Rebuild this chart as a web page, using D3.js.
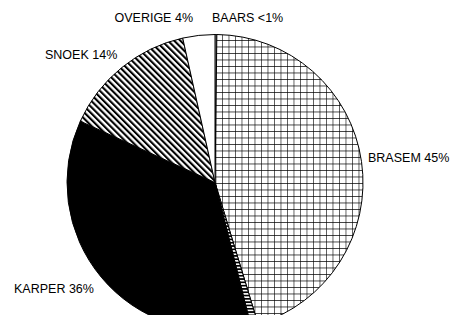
<!DOCTYPE html>
<html>
<head>
<meta charset="utf-8">
<script src="https://cdn.jsdelivr.net/npm/d3@7"></script>
<style>
  html, body { margin: 0; padding: 0; background: #fff; }
  svg { display: block; }
</style>
</head>
<body>
<div id="chart"></div>
<script>
// soorten, clockwise from 12 o'clock
const species = ['BAARS', 'BRASEM', 'BLANKVOORN', 'KARPER', 'SNOEK', 'OVERIGE'];
const shares = [0.2, 45.1, 0.8, 35.7, 14.7, 3.5];
const labels = ['BAARS <1%', 'BRASEM 45%', '', 'KARPER 36%', 'SNOEK 14%', 'OVERIGE 4%'];
const fills = ['white', 'url(#grid)', 'url(#hstripe)', 'black', 'url(#diag)', 'white'];

// label placement (x, baseline, anchor)
const labelPos = {
    BAARS: [212, 22, 'start'],
    BRASEM: [368, 162, 'start'],
    KARPER: [14, 293, 'start'],
    SNOEK: [45, 59, 'start'],
    OVERIGE: [193, 22, 'end']
};

const width = 454, height = 315;
const cx = 215, cy = 182.5, radius = 148;

const svg = d3.select('#chart').append('svg')
    .attr('width', width)
    .attr('height', height);

const defs = svg.append('defs');

let grid = defs.append('pattern')
    .attr('id', 'grid')
    .attr('patternUnits', 'userSpaceOnUse')
    .attr('x', 0.5).attr('y', 0.5)
    .attr('width', 6.5).attr('height', 6.5);
grid.append('rect').attr('width', 6.5).attr('height', 6.5).attr('fill', 'white');
grid.append('path').attr('d', 'M0,0H6.5M0,0V6.5').attr('stroke', 'black').attr('stroke-width', 1.2);

let diag = defs.append('pattern')
    .attr('id', 'diag')
    .attr('patternUnits', 'userSpaceOnUse')
    .attr('width', 4.4).attr('height', 10)
    .attr('patternTransform', 'rotate(-45)');
diag.append('rect').attr('width', 4.4).attr('height', 10).attr('fill', 'white');
diag.append('rect').attr('width', 2.1).attr('height', 10).attr('fill', 'black');

let hstripe = defs.append('pattern')
    .attr('id', 'hstripe')
    .attr('patternUnits', 'userSpaceOnUse')
    .attr('width', 10).attr('height', 3.3);
hstripe.append('rect').attr('width', 10).attr('height', 3.3).attr('fill', 'white');
hstripe.append('rect').attr('width', 10).attr('height', 1.7).attr('fill', 'black');

const data = species.map((s, i) => ({ name: s, value: shares[i], label: labels[i], fill: fills[i] }));

const pie = d3.pie()
    .sort(null)
    .value(d => d.value)
    .startAngle(0)
    .endAngle(2 * Math.PI);

const arc = d3.arc().innerRadius(0).outerRadius(radius);

const g = svg.append('g').attr('transform', `translate(${cx},${cy})`);

g.selectAll('path.slice')
    .data(pie(data))
    .join('path')
    .attr('class', 'slice')
    .attr('d', arc)
    .attr('fill', d => d.data.fill)
    .attr('stroke', 'black')
    .attr('stroke-width', 1)
    .attr('stroke-linejoin', 'round');

svg.selectAll('text.lbl')
    .data(data.filter(d => d.label && labelPos[d.name]))
    .join('text')
    .attr('class', 'lbl')
    .attr('x', d => labelPos[d.name][0])
    .attr('y', d => labelPos[d.name][1])
    .attr('text-anchor', d => labelPos[d.name][2])
    .attr('font-family', 'Liberation Sans, Arial, sans-serif')
    .attr('font-size', '12.5px')
    .attr('fill', 'black')
    .text(d => d.label);
</script>
</body>
</html>
